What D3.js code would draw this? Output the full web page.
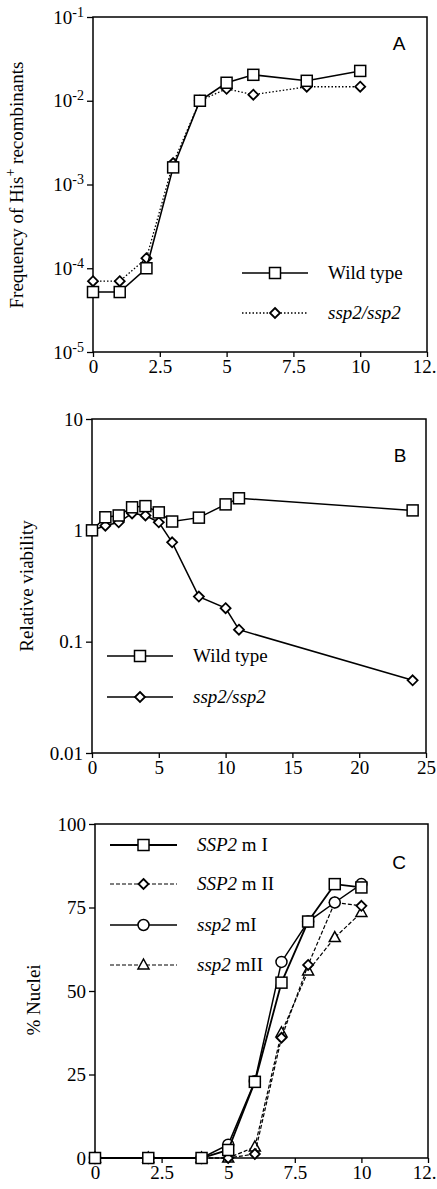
<!DOCTYPE html>
<html>
<head>
<meta charset="utf-8">
<script src="https://cdn.jsdelivr.net/npm/d3@7"></script>
<style>
  body { margin: 0; background: #fff; }
  svg { display: block; }
  text { font-family: "Liberation Serif", "Times New Roman", serif; fill: #000; }
</style>
</head>
<body>
<svg id="chart" width="437" height="1189"></svg>
<script>
// ---- panel A: frequency of His+ recombinants (log)
const timeA = [0, 1, 2, 3, 4, 5, 6, 8, 10];
const wildA = [5.2e-5, 5.2e-5, 1.0e-4, 1.6e-3, 1.0e-2, 1.64e-2, 2.04e-2, 1.73e-2, 2.27e-2];
const ssp2A = [7.0e-5, 7.0e-5, 1.32e-4, 1.8e-3, 1.0e-2, 1.39e-2, 1.18e-2, 1.47e-2, 1.47e-2];
const xTicksA = [0, 2.5, 5, 7.5, 10, 12.5];
const yTicksA = [1e-5, 1e-4, 1e-3, 1e-2, 1e-1];

// ---- panel B: relative viability (log)
const timeB = [0, 1, 2, 3, 4, 5, 6, 8, 10, 11, 24];
const wildB = [1.0, 1.31, 1.36, 1.61, 1.65, 1.45, 1.2, 1.3, 1.71, 1.94, 1.51];
const ssp2B = [1.0, 1.1, 1.18, 1.42, 1.36, 1.18, 0.78, 0.254, 0.2, 0.128, 0.045];
const xTicksB = [0, 5, 10, 15, 20, 25];
const yTicksB = [0.01, 0.1, 1, 10];

// ---- panel C: % nuclei
const timeC = [0, 2, 4, 5, 6, 7, 8, 9, 10];
const SSP2mI = [0, 0, 0, 2.4, 22.8, 52.5, 70.8, 82, 81];
const SSP2mII = [0, 0, 0, 0, 1.2, 36, 57.8, 76.5, 75.5];
const ssp2mI = [0, 0, 0, 4, 23, 58.7, 70.8, 76.5, 82];
const ssp2mII = [0, 0, 0, 0, 3.3, 37.5, 56, 66, 73.5];
const xTicksC = [0, 2.5, 5, 7.5, 10, 12.5];
const yTicksC = [0, 25, 50, 75, 100];

const svg = d3.select("#chart");
const FS = "19px";
const W = 437;

// marker drawing
function marker(g, type, x, y) {
  if (type === "square") {
    g.append("rect").attr("x", x - 5.5).attr("y", y - 5.5).attr("width", 11).attr("height", 11)
      .attr("fill", "#fff").attr("stroke", "#000").attr("stroke-width", 1.5);
  } else if (type === "diamond") {
    g.append("path").attr("d", `M${x},${y - 5}L${x + 5},${y}L${x},${y + 5}L${x - 5},${y}Z`)
      .attr("fill", "#fff").attr("stroke", "#000").attr("stroke-width", 1.8);
  } else if (type === "circle") {
    g.append("circle").attr("cx", x).attr("cy", y).attr("r", 5.5)
      .attr("fill", "#fff").attr("stroke", "#000").attr("stroke-width", 1.5);
  } else if (type === "triangle") {
    g.append("path").attr("d", `M${x},${y - 6}L${x + 5.5},${y + 4}L${x - 5.5},${y + 4}Z`)
      .attr("fill", "#fff").attr("stroke", "#000").attr("stroke-width", 1.5);
  }
}

function series(g, xs, ys, x, y, s) {
  const pts = xs.map((t, i) => [x(t), y(ys[i])]);
  g.append("path").attr("d", d3.line()(pts)).attr("fill", "none")
    .attr("stroke", "#000").attr("stroke-width", s.width || 1.5)
    .attr("stroke-dasharray", s.dash || null);
  pts.forEach(p => marker(g, s.marker, p[0], p[1]));
}

function legendRow(g, x0, x1, y, s, label) {
  g.append("line").attr("x1", x0).attr("x2", x1).attr("y1", y).attr("y2", y)
    .attr("stroke", "#000").attr("stroke-width", s.width || 1.5)
    .attr("stroke-dasharray", s.dash || null);
  marker(g, s.marker, (x0 + x1) / 2, y);
  const t = g.append("text").attr("x", x1 + 20).attr("y", y + 6).style("font-size", FS);
  label.forEach(part => t.append("tspan").style("font-style", part.i ? "italic" : "normal").text(part.t));
}

function frame(g, x, y) {
  const [x0, x1] = x.range(), [y0, y1] = y.range();
  g.append("rect").attr("x", x0).attr("y", y1).attr("width", x1 - x0).attr("height", y0 - y1)
    .attr("fill", "none").attr("stroke", "#000").attr("stroke-width", 1.5);
}

function xAxis(g, x, y, ticks, fmt) {
  const y0 = y.range()[0];
  const ax = g.append("g").attr("transform", `translate(0,${y0})`)
    .call(d3.axisBottom(x).tickValues(ticks).tickSize(5).tickPadding(3).tickFormat(fmt));
  ax.select(".domain").remove();
  ax.selectAll("line").attr("stroke-width", 1.3);
  ax.selectAll("text").style("font-size", FS).style("font-family", "Liberation Serif");
  // keep the last label inside the page
  ax.selectAll(".tick text").each(function (d) {
    const t = d3.select(this);
    const right = x(d) + this.getComputedTextLength() / 2;
    if (right > W - 1) t.attr("text-anchor", "end").attr("x", W - 1 - x(d));
  });
}

function yAxis(g, x, y, ticks, fmt) {
  const x0 = x.range()[0];
  const ax = g.append("g").attr("transform", `translate(${x0},0)`)
    .call(d3.axisLeft(y).tickValues(ticks).tickSize(6).tickPadding(3).tickFormat(fmt));
  ax.select(".domain").remove();
  ax.selectAll("line").attr("stroke-width", 1.3);
  ax.selectAll("text").style("font-size", FS).style("font-family", "Liberation Serif");
  return ax;
}

function panelLetter(g, x, y, s) {
  g.append("text").attr("x", x).attr("y", y).attr("text-anchor", "middle")
    .style("font-family", "Liberation Sans, Arial, sans-serif").style("font-size", "19px").text(s);
}

// ================= Panel A
{
  const g = svg.append("g");
  const x = d3.scaleLinear().domain([0, 12.5]).range([93, 427]);
  const y = d3.scaleLog().domain([1e-5, 1e-1]).range([352, 17]);
  const ax = yAxis(g, x, y, yTicksA, () => "");
  ax.selectAll(".tick").each(function (d) {
    const t = d3.select(this).select("text").text(null);
    t.append("tspan").text("10");
    t.append("tspan").attr("dy", -7).style("font-size", "14px").text(Math.round(Math.log10(d)));
  });
  xAxis(g, x, y, xTicksA, d => d === 12.5 ? "12." : String(d));
  frame(g, x, y);
  series(g, timeA, ssp2A, x, y, { marker: "diamond", dash: "1.5,2", width: 1.3 });
  series(g, timeA, wildA, x, y, { marker: "square", width: 1.6 });
  panelLetter(g, 399, 50, "A");
  legendRow(g, 242, 308, 273, { marker: "square" }, [{ t: "Wild type" }]);
  legendRow(g, 242, 308, 313, { marker: "diamond", dash: "1.5,2", width: 1.3 }, [{ t: "ssp2/ssp2", i: true }]);
  const yl = g.append("text").attr("transform", "translate(23,185) rotate(-90)")
    .attr("text-anchor", "middle").style("font-size", FS);
  yl.append("tspan").text("Frequency of His");
  yl.append("tspan").attr("dy", -8).style("font-size", "14px").text("+");
  yl.append("tspan").attr("dy", 8).text(" recombinants");
}

// ================= Panel B
{
  const g = svg.append("g");
  const x = d3.scaleLinear().domain([0, 25]).range([92, 426]);
  const y = d3.scaleLog().domain([0.01, 10]).range([753, 419]);
  yAxis(g, x, y, yTicksB, d => String(d));
  xAxis(g, x, y, xTicksB, d => String(d));
  frame(g, x, y);
  series(g, timeB, ssp2B, x, y, { marker: "diamond" });
  series(g, timeB, wildB, x, y, { marker: "square" });
  panelLetter(g, 400, 462, "B");
  legendRow(g, 107, 173, 656, { marker: "square" }, [{ t: "Wild type" }]);
  legendRow(g, 107, 173, 697, { marker: "diamond" }, [{ t: "ssp2/ssp2", i: true }]);
  g.append("text").attr("transform", "translate(33,586) rotate(-90)")
    .attr("text-anchor", "middle").style("font-size", FS).text("Relative viability");
}

// ================= Panel C
{
  const g = svg.append("g");
  const x = d3.scaleLinear().domain([0, 12.5]).range([95, 428]);
  const y = d3.scaleLinear().domain([0, 100]).range([1158, 824]);
  yAxis(g, x, y, yTicksC, d => String(d));
  xAxis(g, x, y, xTicksC, d => d === 12.5 ? "12." : String(d));
  frame(g, x, y);
  const sII = { marker: "diamond", dash: "4,2", width: 1.2 };
  const tII = { marker: "triangle", dash: "4,2", width: 1.2 };
  const sI = { marker: "square", width: 1.8 };
  const cI = { marker: "circle", width: 1.5 };
  series(g, timeC, ssp2mII, x, y, tII);
  series(g, timeC, SSP2mII, x, y, sII);
  series(g, timeC, ssp2mI, x, y, cI);
  series(g, timeC, SSP2mI, x, y, sI);
  panelLetter(g, 399, 869, "C");
  legendRow(g, 110, 177, 845, sI, [{ t: "SSP2", i: true }, { t: " m I" }]);
  legendRow(g, 110, 177, 884, sII, [{ t: "SSP2", i: true }, { t: " m II" }]);
  legendRow(g, 110, 177, 925, cI, [{ t: "ssp2", i: true }, { t: " mI" }]);
  legendRow(g, 110, 177, 965, tII, [{ t: "ssp2", i: true }, { t: " mII" }]);
  g.append("text").attr("transform", "translate(40,1000) rotate(-90)")
    .attr("text-anchor", "middle").style("font-size", FS).text("% Nuclei");
}
</script>
</body>
</html>
